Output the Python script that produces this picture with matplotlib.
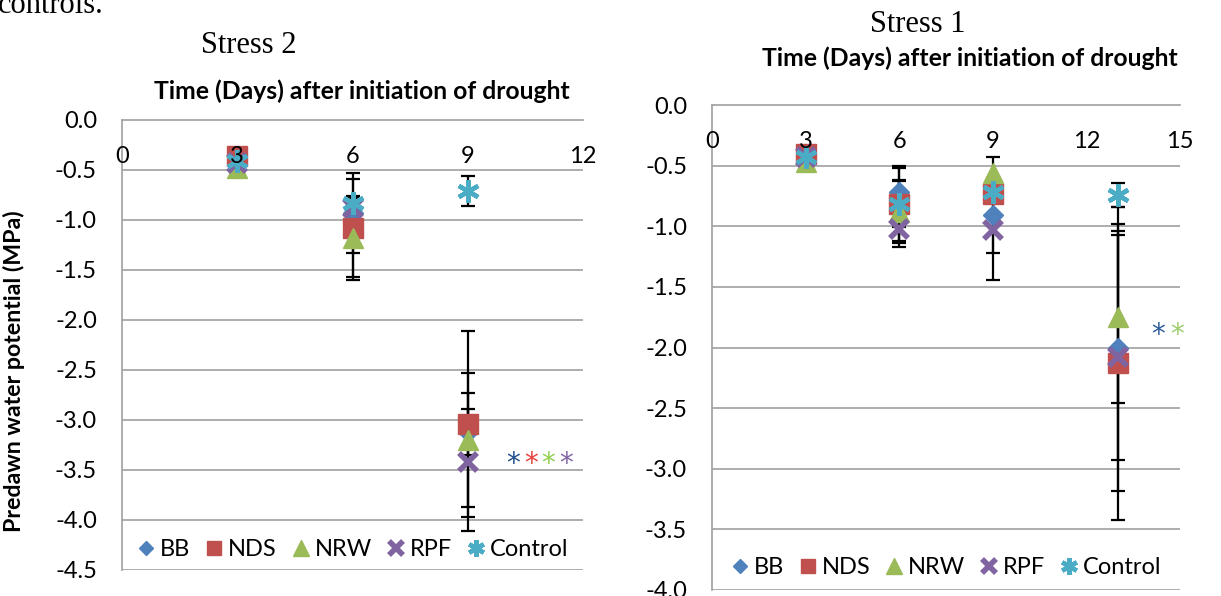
import numpy as np
import matplotlib.pyplot as plt
from matplotlib.transforms import offset_copy

### Predawn water potential of the four sources and the controls, two stress cycles.

names = ["BB", "NDS", "NRW", "RPF", "Control"]

# Stress 2 (left panel)
days_s2 = [3, 6, 9]
vals_s2 = {
    "BB":      [-0.42, -0.93, -3.12],
    "NDS":     [-0.36, -1.08, -3.04],
    "NRW":     [-0.48, -1.18, -3.20],
    "RPF":     [-0.43, -0.88, -3.42],
    "Control": [-0.41, -0.83, -0.71],
}
errs_s2 = {
    "BB":      [0.03, 0.40, 0.23],
    "NDS":     [0.03, 0.49, 0.93],
    "NRW":     [0.03, 0.42, 0.67],
    "RPF":     [0.03, 0.08, 0.69],
    "Control": [0.03, 0.05, 0.15],
}

# Stress 1 (right panel)
days_s1 = [3, 6, 9, 13]
vals_s1 = {
    "BB":      [-0.43, -0.72, -0.91, -2.00],
    "NDS":     [-0.40, -0.82, -0.73, -2.13],
    "NRW":     [-0.47, -0.88, -0.56, -1.75],
    "RPF":     [-0.43, -1.02, -1.03, -2.08],
    "Control": [-0.43, -0.82, -0.72, -0.74],
}
errs_s1 = {
    "BB":      [0.03, 0.22, 0.31, 0.93],
    "NDS":     [0.03, 0.30, 0.05, 1.29],
    "NRW":     [0.03, 0.26, 0.13, 0.71],
    "RPF":     [0.03, 0.15, 0.41, 1.10],
    "Control": [0.03, 0.19, 0.05, 0.10],
}

# significance asterisks (x in days, y in MPa)
stars_s2_x = [10.18, 10.64, 11.10, 11.56]
stars_s2_y = -3.37
stars_s2_c = ["#1F4E8C", "#E8413C", "#92D050", "#8064A2"]
stars_s1_x = [14.30, 14.90]
stars_s1_y = -1.84
stars_s1_c = ["#2E5E9E", "#9BCF6B"]

style = {
    "BB":      dict(marker="D", color="#4F81BD", ms=10),
    "NDS":     dict(marker="s", color="#C0504D", ms=14),
    "NRW":     dict(marker="^", color="#9BBB59", ms=15),
    "RPF":     dict(marker="x", color="#8064A2", ms=13, mew=4),
    "Control": dict(marker=(6, 2, 0), color="#4BACC6", ms=16, mew=3.2),
}

SANS = "Lato"
SERIF = "Liberation Serif"
GRID = "#A0A0A0"


def draw_panel(ax, days, vals, errs, ymin, xmax, xstep, stars_x, stars_y, stars_c, leg_y):
    for n in names:
        ax.errorbar(days, vals[n], yerr=errs[n], fmt="none", ecolor="black",
                    elinewidth=1.6, capsize=5, capthick=1.6, zorder=2)
    for n in names:
        ax.plot(days, vals[n], linestyle="none", label=n, zorder=3, **style[n])

    ax.set_xlim(0, xmax)
    ax.set_ylim(ymin, 0)
    yticks = np.arange(0, ymin - 0.01, -0.5)
    for y in yticks[1:]:
        ax.axhline(y, color=GRID, lw=1.2, zorder=1)
    ax.set_yticks(yticks)
    ax.set_yticklabels([f"{t:.1f}" for t in yticks], fontfamily=SANS)
    xticks = np.arange(0, xmax + 0.1, xstep)
    ax.set_xticks(xticks)
    ax.set_xticklabels([f"{t:.0f}" for t in xticks], fontfamily=SANS)

    ax.xaxis.tick_top()
    ax.tick_params(axis="x", length=0, pad=-34, labelsize=17)
    ax.tick_params(axis="y", length=0, pad=18, labelsize=17)
    ax.xaxis.set_zorder(4)
    for s in ["right", "bottom"]:
        ax.spines[s].set_visible(False)
    for s in ["left", "top"]:
        ax.spines[s].set_color(GRID)
        ax.spines[s].set_linewidth(1.2)

    ax.legend(loc="center", bbox_to_anchor=(0.5, leg_y), ncol=5, frameon=False,
              prop={"family": SANS, "size": 17}, handlelength=0.8, handletextpad=0.2,
              columnspacing=0.6, markerscale=0.75, borderaxespad=0)

    # asterisks: glyph sits high in its line, shift baseline down
    tr = offset_copy(ax.transData, fig=ax.figure, y=-11, units="points")
    for x, c in zip(stars_x, stars_c):
        ax.text(x, stars_y, "*", color=c, fontsize=20, fontfamily="DejaVu Sans",
                ha="center", va="baseline", transform=tr, clip_on=False)


fig = plt.figure(figsize=(12.21, 5.96), dpi=100)
axL = fig.add_axes([122 / 1221, 1 - 570 / 596, 461 / 1221, 450 / 596])
axR = fig.add_axes([712 / 1221, 1 - 590 / 596, 468 / 1221, 485 / 596])

draw_panel(axL, days_s2, vals_s2, errs_s2, -4.5, 12, 3,
           stars_s2_x, stars_s2_y, stars_s2_c, 20 / 450)
draw_panel(axR, days_s1, vals_s1, errs_s1, -4.0, 15, 3,
           stars_s1_x, stars_s1_y, stars_s1_c, 22 / 485)

for ax, xf, yf in [(axL, 0.5206, 1 + 21 / 450), (axR, 0.551, 1 + 39 / 485)]:
    ax.set_xlabel("Time (Days) after initiation of drought", fontsize=17.8,
                  fontweight="bold", fontfamily=SANS)
    ax.xaxis.set_label_position("top")
    ax.xaxis.set_label_coords(xf, yf)
    ax.xaxis.label.set_va("baseline")

axL.set_ylabel("Predawn water potential (MPa)", fontsize=16.7, fontweight="bold",
               fontfamily=SANS)
axL.yaxis.set_label_coords(-0.21, 0.442)

fig.text(-0.002, 1 - 13 / 596, "controls.", fontfamily=SERIF, fontsize=22, va="baseline")
fig.text(249 / 1221, 1 - 53 / 596, "Stress 2", fontfamily=SERIF, fontsize=22,
         ha="center", va="baseline")
fig.text(918 / 1221, 1 - 32 / 596, "Stress 1", fontfamily=SERIF, fontsize=22,
         ha="center", va="baseline")

plt.savefig("out.png", dpi=100)
